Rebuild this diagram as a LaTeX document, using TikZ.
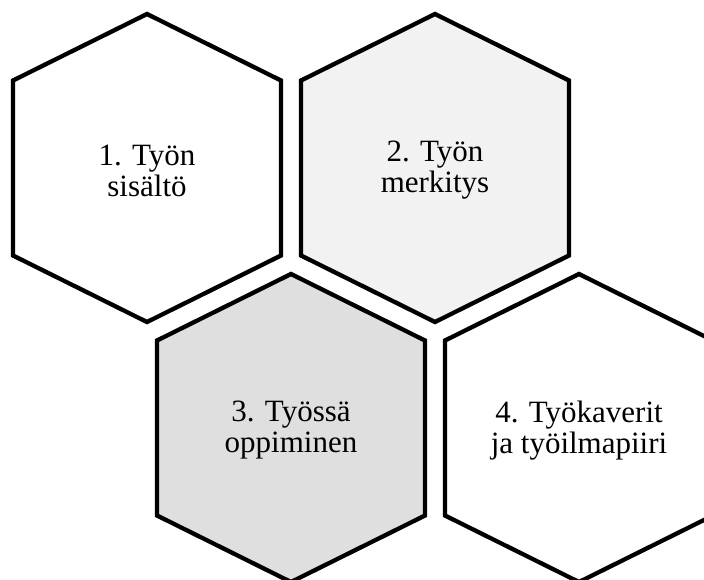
\documentclass[tikz,border=0pt]{standalone}
\usepackage{fontspec}
\setmainfont{Liberation Serif}
\definecolor{grisclaro}{HTML}{F2F2F2}
\definecolor{grismedio}{HTML}{DFDFDF}

\begin{document}
\begin{tikzpicture}[x=1pt, y=-1pt,
        % Estilos de los hexágonos y textos
        hexa/.style={
            draw=black,
            line width=4.3pt,
            line join=miter
        },
        etiqueta/.style={
            font=\fontsize{31}{31}\selectfont,
            align=center,
            text=black,
            yshift=-2.5pt
        }
    ]

        \clip (0,0) rectangle (704,579);

        % Centros
        \coordinate (c1) at (147,168);
        \coordinate (c2) at (435,168);
        \coordinate (c3) at (291,428);
        \coordinate (c4) at (579,428);

        % Hexágonos
        \draw[hexa, fill=white] (c1) ++(0,-154) -- ++(134,66.5) -- ++(0,175) -- ++(-134,66.5) -- ++(-134,-66.5) -- ++(0,-175) -- cycle;
        \draw[hexa, fill=grisclaro] (c2) ++(0,-154) -- ++(134,66.5) -- ++(0,175) -- ++(-134,66.5) -- ++(-134,-66.5) -- ++(0,-175) -- cycle;
        \draw[hexa, fill=grismedio] (c3) ++(0,-154) -- ++(134,66.5) -- ++(0,175) -- ++(-134,66.5) -- ++(-134,-66.5) -- ++(0,-175) -- cycle;
        \draw[hexa, fill=white] (c4) ++(0,-154) -- ++(134,66.5) -- ++(0,175) -- ++(-134,66.5) -- ++(-134,-66.5) -- ++(0,-175) -- cycle;

        % Textos
        \node[etiqueta] (sisalto) at (c1) {1. Työn\\sisältö};
        \node[etiqueta] (merkitys) at (c2) {2. Työn\\merkitys};
        \node[etiqueta] (oppiminen) at (c3) {3. Työssä\\oppiminen};
        \node[etiqueta] (tyokaverit) at (c4) {4. Työkaverit\\ja työilmapiiri};

    \end{tikzpicture}
\end{document}
